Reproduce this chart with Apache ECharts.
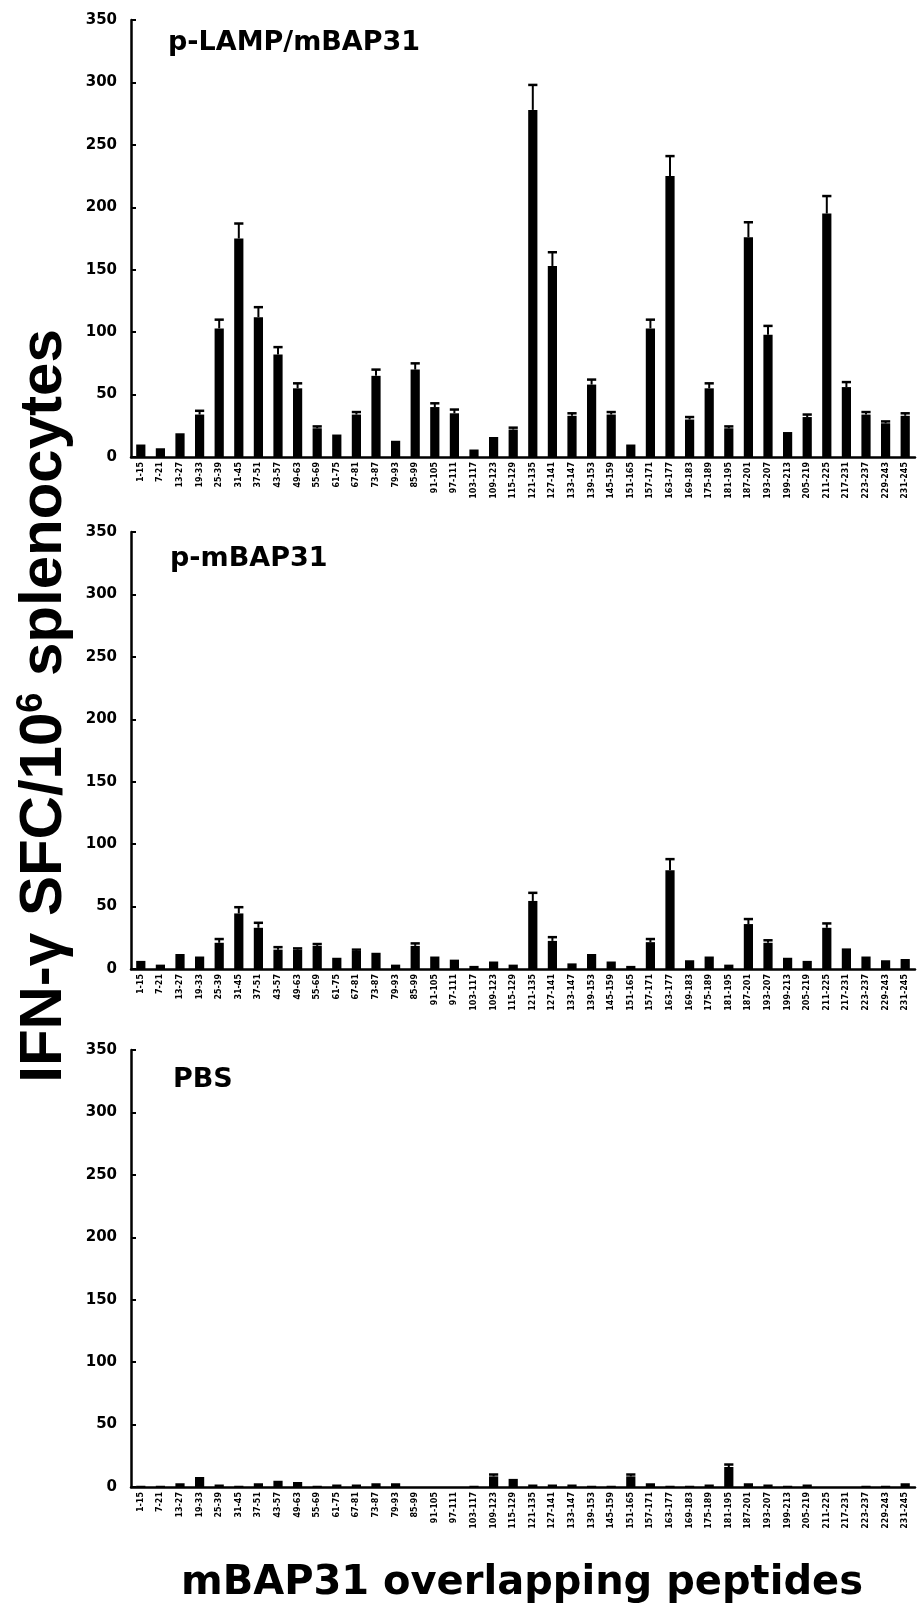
<!DOCTYPE html>
<html>
<head>
<meta charset="utf-8">
<script src="https://cdn.jsdelivr.net/npm/echarts@6/dist/echarts.min.js"></script>
<style>
  html, body { margin: 0; padding: 0; background: #fff; }
  #chart { width: 917px; height: 1609px; }
</style>
</head>
<body>
<div id="chart"></div>
<script>
// ---------- data ----------
const categories = ['1-15','7-21','13-27','19-33','25-39','31-45','37-51','43-57','49-63','55-69',
  '61-75','67-81','73-87','79-93','85-99','91-105','97-111','103-117','109-123','115-129',
  '121-135','127-141','133-147','139-153','145-159','151-165','157-171','163-177','169-183','175-189',
  '181-195','187-201','193-207','199-213','205-219','211-225','217-231','223-237','229-243','231-245'];

const lampValues = [10, 7, 19, 34, 103, 175, 112, 82, 55, 23,
  18, 34, 65, 13, 70, 40, 35, 6, 16, 22,
  278, 153, 33, 58, 34, 10, 103, 225, 30, 55,
  23, 176, 98, 20, 32, 195, 56, 34, 27, 33];
const lampErrors = [0, 0, 0, 3, 7, 12, 8, 6, 4, 1.5,
  0, 2, 5, 0, 5, 3, 3, 0, 0, 1.5,
  20, 11, 2, 4, 2, 0, 7, 16, 2, 4,
  1.5, 12, 7, 0, 2, 14, 4, 2, 1.5, 2];

const mbapValues = [6.5, 3.5, 12, 10, 21, 44.5, 33, 15.5, 15.5, 18.5,
  9, 14.5, 13, 3.5, 18.5, 10, 7.5, 2.5, 6, 3.5,
  54.5, 22.5, 4.5, 12, 6, 2.5, 21.5, 79, 7, 10,
  3.5, 36, 21, 9, 6.5, 33, 16.5, 10, 7, 8];
const mbapErrors = [0, 0, 0, 0, 3, 5, 4, 2, 1, 1.5,
  0, 1, 0, 0, 2, 0, 0, 0, 0, 0,
  6.5, 3, 0, 0, 0, 0, 2.5, 9, 0, 0,
  0, 4, 2, 0, 0, 3.5, 0, 0, 0, 0];

const pbsValues = [1, 1, 3, 8, 2, 1, 3, 5, 4, 1,
  2, 2, 3, 3, 0, 0, 0, 1, 8.5, 6.5,
  2, 2, 2, 1, 1, 8.5, 3, 1, 1, 2,
  16, 3, 2, 1, 2, 0, 0, 1, 1, 3];
const pbsErrors = [0, 0, 0, 0, 0, 0, 0, 0, 0, 0,
  0, 0, 0, 0, 0, 0, 0, 0, 1.5, 0,
  0, 0, 0, 0, 0, 1.5, 0, 0, 0, 0,
  2, 0, 0, 0, 0, 0, 0, 0, 0, 0];

const panelNames = ['p-LAMP/mBAP31', 'p-mBAP31', 'PBS'];
const yMin = 0, yMax = 350, yInterval = 50;
const xTitle = 'mBAP31 overlapping peptides';

// ---------- chart ----------
const FONT = '"DejaVu Sans", "Liberation Sans", Arial, sans-serif';
const FONT_ARIAL = '"Liberation Sans", Arial, sans-serif';
const panels = [
  { values: lampValues, errors: lampErrors, top: 20, labelX: 168, labelY: 46 },
  { values: mbapValues, errors: mbapErrors, top: 532, labelX: 170, labelY: 562 },
  { values: pbsValues, errors: pbsErrors, top: 1050, labelX: 173, labelY: 1083 }
];
const GRID_LEFT = 131, GRID_W = 784, GRID_H = 437;
const BAR_RATIO = 0.47;

const grids = [], xAxes = [], yAxes = [], series = [], graphics = [];
panels.forEach((p, k) => {
  grids.push({ left: GRID_LEFT, top: p.top, width: GRID_W, height: GRID_H, containLabel: false });
  xAxes.push({
    type: 'category', gridIndex: k, data: categories,
    axisLine: { show: true, lineStyle: { color: '#000', width: 2.5 } },
    axisTick: { show: false },
    axisLabel: { interval: 0, rotate: 90, fontSize: 8, fontWeight: 'bold', color: '#000',
                 margin: 5, fontFamily: FONT },
    splitLine: { show: false }
  });
  yAxes.push({
    type: 'value', gridIndex: k, min: yMin, max: yMax, interval: yInterval,
    axisLine: { show: true, lineStyle: { color: '#000', width: 2.5 } },
    axisTick: { show: true, inside: true, length: 5, lineStyle: { color: '#000', width: 2 } },
    axisLabel: { fontSize: 15, fontWeight: 'bold', color: '#000', margin: 14, fontFamily: FONT },
    splitLine: { show: false }
  });
  series.push({
    type: 'bar', xAxisIndex: k, yAxisIndex: k, data: p.values,
    barWidth: (BAR_RATIO * 100) + '%', itemStyle: { color: '#000' }, silent: true
  });
  series.push({
    type: 'custom', xAxisIndex: k, yAxisIndex: k, silent: true, z: 5,
    data: categories.map((c, i) => [i, p.values[i] + p.errors[i], p.values[i]]),
    encode: { x: 0, y: [1, 2] },
    renderItem: function (params, api) {
      const top = api.value(1), base = api.value(2);
      if (!(top > base)) return null;
      const i = api.value(0);
      const pb = api.coord([i, base]);
      const pt = api.coord([i, top]);
      const w = api.size([1, 0])[0] * BAR_RATIO;
      return {
        type: 'group',
        children: [
          { type: 'line', shape: { x1: pb[0], y1: pb[1], x2: pt[0], y2: pt[1] },
            style: { stroke: '#000', lineWidth: 2 } },
          { type: 'line', shape: { x1: pt[0] - w / 2, y1: pt[1], x2: pt[0] + w / 2, y2: pt[1] },
            style: { stroke: '#000', lineWidth: 2.5 } }
        ]
      };
    }
  });
  graphics.push({
    type: 'text', left: p.labelX, top: p.labelY - 17,
    style: { text: panelNames[k], font: 'bold 27px ' + FONT, fill: '#000' }
  });
});

// axis titles
graphics.push({
  type: 'text', x: 44, y: 706, rotation: Math.PI / 2,
  style: {
    text: '{a|IFN-γ SFC/10}{s|6}{a| splenocytes}',
    align: 'center', verticalAlign: 'middle',
    rich: {
      a: { font: 'bold 60px ' + FONT_ARIAL, fill: '#000' },
      s: { font: 'bold 36px ' + FONT_ARIAL, fill: '#000', padding: [0, 0, 24, 0] }
    }
  }
});
graphics.push({
  type: 'text', x: 522, y: 1584,
  style: { text: xTitle, font: 'bold 40px ' + FONT, fill: '#000', align: 'center', verticalAlign: 'middle' }
});

const chart = echarts.init(document.getElementById('chart'), null, { renderer: 'canvas' });
chart.setOption({
  animation: false,
  backgroundColor: '#fff',
  grid: grids, xAxis: xAxes, yAxis: yAxes, series: series, graphic: graphics
});
</script>
</body>
</html>
